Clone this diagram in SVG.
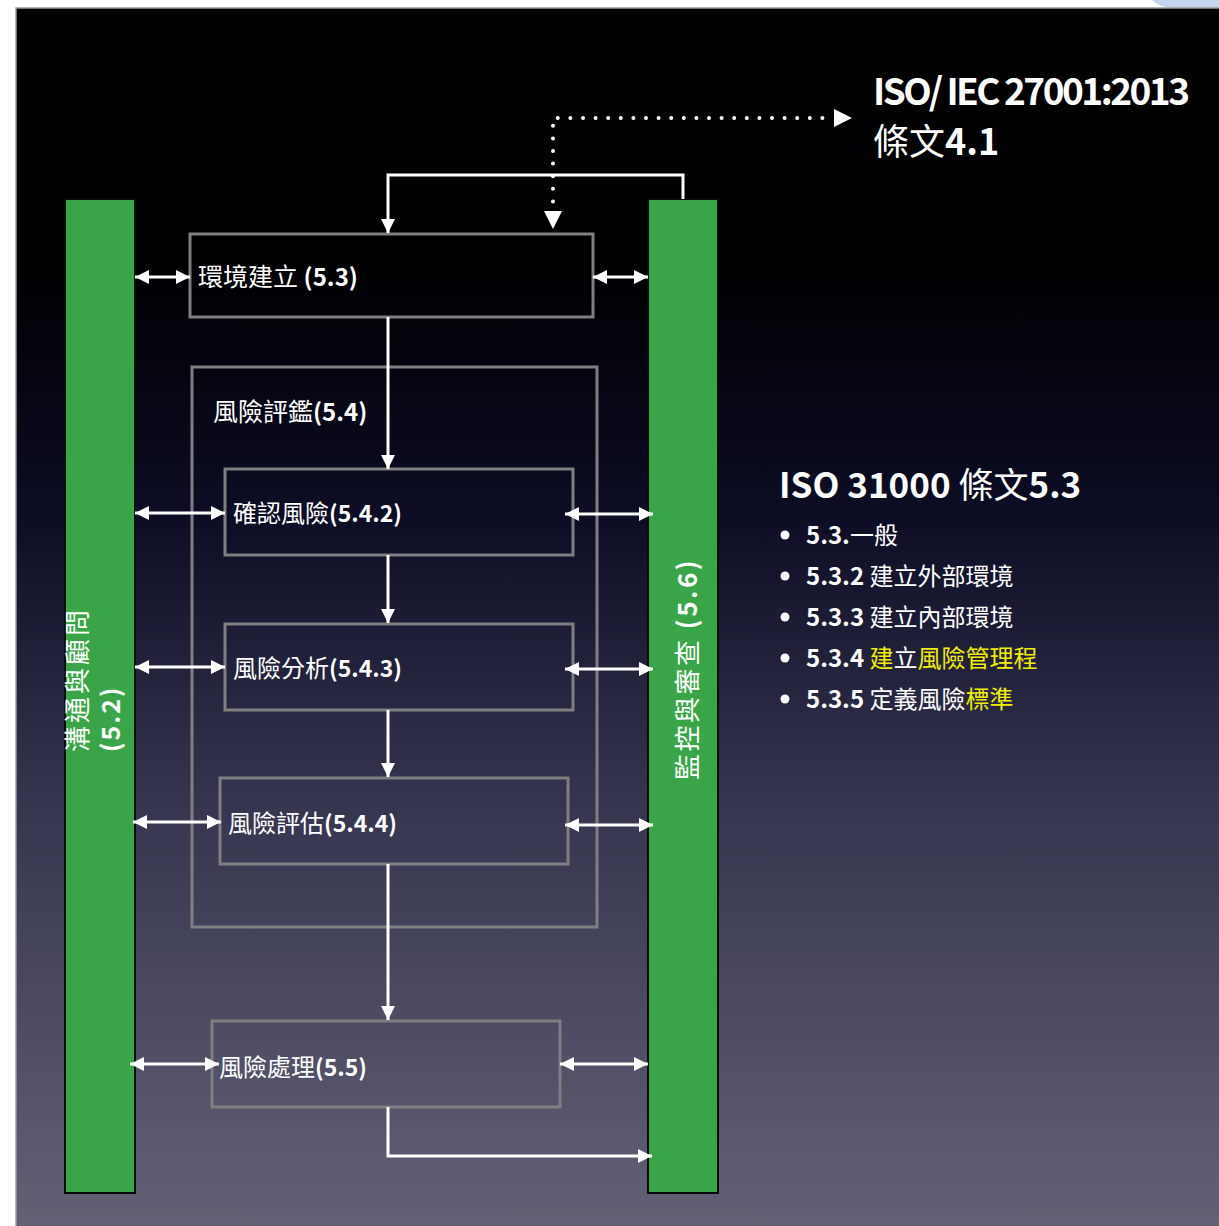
<svg xmlns="http://www.w3.org/2000/svg" width="1219" height="1226" viewBox="0 0 1219 1226">
<defs>
<linearGradient id="bg" x1="0" y1="0" x2="0" y2="1">
<stop offset="0" stop-color="#000000"/>
<stop offset="0.22" stop-color="#000003"/>
<stop offset="0.42" stop-color="#0d0d26"/>
<stop offset="0.65" stop-color="#35354f"/>
<stop offset="1" stop-color="#626176"/>
</linearGradient>
<marker id="ah" viewBox="0 0 10 10" refX="10" refY="5" markerWidth="15" markerHeight="14" markerUnits="userSpaceOnUse" orient="auto-start-reverse">
<path d="M0,0 L10,5 L0,10 z" fill="#ffffff"/>
</marker>
<style>
.txt{font-family:"Noto Sans CJK TC","Noto Sans CJK SC",sans-serif;fill:#ffffff}
.b{font-weight:700}
.n{font-weight:400}
.box{fill:none;stroke:#7f7f82;stroke-width:3}
.bar{fill:#3aa548;stroke:#0a0a0a;stroke-width:2}
.ln{fill:none;stroke:#ffffff;stroke-width:3}
.dot{fill:none;stroke:#ffffff;stroke-width:4;stroke-linecap:round;stroke-dasharray:0 12.6}
.y{fill:#f2ee00}
.bul{fill:#ffffff}
</style>
</defs>
<rect x="0" y="0" width="1219" height="1226" fill="#ffffff"/>
<path d="M1152,0 Q1160,8 1175,8 L1219,8 L1219,0 z" fill="#c3d6ee"/>
<rect x="16" y="8" width="1204" height="1219" fill="url(#bg)" stroke="#9a9a9a" stroke-width="1.5"/>

<g id="bar-left">
<rect class="bar" x="65" y="199" width="70" height="994"/>
<text class="txt n" font-size="26" letter-spacing="3" transform="translate(87,752) rotate(-90)">溝通與顧問</text>
<text class="txt b" font-size="25" letter-spacing="2" transform="translate(120,752) rotate(-90)">(5.2)</text>
</g>
<g id="bar-right">
<rect class="bar" x="648" y="199" width="70" height="994"/>
<text class="txt" font-size="26" letter-spacing="2.5" transform="translate(697,780) rotate(-90)"><tspan class="n">監控與審查 </tspan><tspan class="b">(5.6)</tspan></text>
</g>

<g id="n53">
<rect class="box" x="190" y="234" width="403" height="83"/>
<text class="txt" x="198" y="286" font-size="25"><tspan class="n">環境建立 </tspan><tspan class="b" font-size="24">(5.3)</tspan></text>
</g>
<g id="n54">
<rect class="box" x="192" y="367" width="405" height="560"/>
<text class="txt" x="213" y="421" font-size="25"><tspan class="n">風險評鑑</tspan><tspan class="b" font-size="24">(5.4)</tspan></text>
</g>
<g id="n542">
<rect class="box" x="225" y="469" width="348" height="86"/>
<text class="txt" x="233" y="522" font-size="24"><tspan class="n">確認風險</tspan><tspan class="b" font-size="23">(5.4.2)</tspan></text>
</g>
<g id="n543">
<rect class="box" x="225" y="624" width="348" height="86"/>
<text class="txt" x="233" y="677" font-size="24"><tspan class="n">風險分析</tspan><tspan class="b" font-size="23">(5.4.3)</tspan></text>
</g>
<g id="n544">
<rect class="box" x="220" y="778" width="348" height="86"/>
<text class="txt" x="228" y="832" font-size="24"><tspan class="n">風險評估</tspan><tspan class="b" font-size="23">(5.4.4)</tspan></text>
</g>
<g id="n55">
<rect class="box" x="212" y="1021" width="348" height="86"/>
<text class="txt" x="219" y="1076" font-size="24"><tspan class="n">風險處理</tspan><tspan class="b" font-size="23">(5.5)</tspan></text>
</g>

<g id="iso27001">
<text class="txt b" x="873" y="105" font-size="37" textLength="317" lengthAdjust="spacing">ISO/ IEC 27001:2013</text>
<text class="txt" x="873" y="155" font-size="36"><tspan class="n">條文</tspan><tspan class="b">4.1</tspan></text>
</g>

<g id="iso31000">
<text class="txt" x="779" y="498" font-size="35"><tspan class="b">ISO 31000 </tspan><tspan class="n">條文</tspan><tspan class="b">5.3</tspan></text>
<circle class="bul" cx="785" cy="535" r="4.5"/>
<circle class="bul" cx="785" cy="576" r="4.5"/>
<circle class="bul" cx="785" cy="617" r="4.5"/>
<circle class="bul" cx="785" cy="658" r="4.5"/>
<circle class="bul" cx="785" cy="699" r="4.5"/>
<g font-size="24">
<text class="txt" x="806" y="544"><tspan class="b">5.3.</tspan><tspan class="n">一般</tspan></text>
<text class="txt" x="806" y="585"><tspan class="b">5.3.2 </tspan><tspan class="n">建立外部環境</tspan></text>
<text class="txt" x="806" y="626"><tspan class="b">5.3.3 </tspan><tspan class="n">建立內部環境</tspan></text>
<text class="txt" x="806" y="667"><tspan class="b">5.3.4 </tspan><tspan class="n y">建</tspan><tspan class="n">立</tspan><tspan class="n y">風險管理程</tspan></text>
<text class="txt" x="806" y="708"><tspan class="b">5.3.5 </tspan><tspan class="n">定義風險</tspan><tspan class="n y">標準</tspan></text>
</g>
</g>

<g id="connectors">
<path class="dot" d="M553,214 L553,118 L834,118"/>
<path d="M544,211 L553,229 L562,211 z" fill="#ffffff"/>
<path d="M834,109 L852,118 L834,127 z" fill="#ffffff"/>
<path class="ln" d="M683,199 V175 H388 V233" marker-end="url(#ah)"/>
<path class="ln" d="M388,317 V469" marker-end="url(#ah)"/>
<path class="ln" d="M388,555 V623" marker-end="url(#ah)"/>
<path class="ln" d="M388,710 V777" marker-end="url(#ah)"/>
<path class="ln" d="M388,864 V1020" marker-end="url(#ah)"/>
<path class="ln" d="M388,1107 V1156 H652" marker-end="url(#ah)"/>
<path class="ln" d="M135,277 H190" marker-start="url(#ah)" marker-end="url(#ah)"/>
<path class="ln" d="M135,513 H225" marker-start="url(#ah)" marker-end="url(#ah)"/>
<path class="ln" d="M135,667 H225" marker-start="url(#ah)" marker-end="url(#ah)"/>
<path class="ln" d="M133,822 H221" marker-start="url(#ah)" marker-end="url(#ah)"/>
<path class="ln" d="M130,1064 H219" marker-start="url(#ah)" marker-end="url(#ah)"/>
<path class="ln" d="M593,277 H648" marker-start="url(#ah)" marker-end="url(#ah)"/>
<path class="ln" d="M565,514 H653" marker-start="url(#ah)" marker-end="url(#ah)"/>
<path class="ln" d="M565,669 H653" marker-start="url(#ah)" marker-end="url(#ah)"/>
<path class="ln" d="M565,825 H653" marker-start="url(#ah)" marker-end="url(#ah)"/>
<path class="ln" d="M560,1064 H648" marker-start="url(#ah)" marker-end="url(#ah)"/>
</g>
</svg>
